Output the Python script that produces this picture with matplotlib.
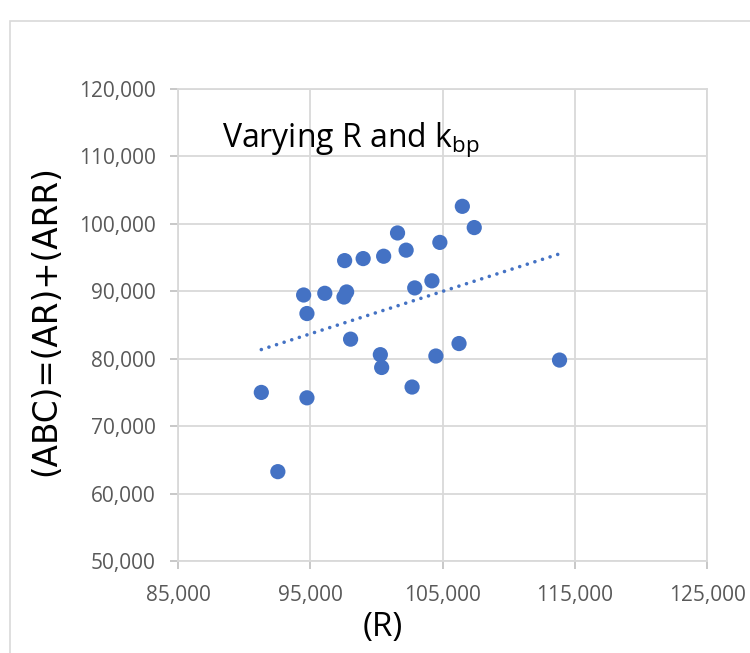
import matplotlib
matplotlib.use('Agg')
import matplotlib.pyplot as plt
import numpy as np
from matplotlib.patches import Rectangle
from matplotlib.ticker import StrMethodFormatter

# (R) on the x axis, (ABC)=(AR)+(ARR) on the y axis
r_values = [106500, 107400, 101600, 104800, 102250, 100550, 99000, 97600,
            104200, 102900, 94500, 96100, 97750, 97550, 94750, 98050,
            106250, 100300, 104500, 113850, 100400, 102700, 91300, 94750,
            92550]
abc_values = [102600, 99450, 98650, 97250, 96100, 95200, 94850, 94550,
              91550, 90500, 89450, 89700, 89900, 89150, 86700, 82900,
              82250, 80600, 80400, 79800, 78700, 75800, 75000, 74200,
              63250]

x_ticks = [85000, 95000, 105000, 115000, 125000]
y_ticks = [50000, 60000, 70000, 80000, 90000, 100000, 110000, 120000]

title = 'Varying R and k$_{\\mathregular{bp}}$'
x_label = '(R)'
y_label = '(ABC)=(AR)+(ARR)'

blue = '#4472C4'
grid_grey = '#d9d9d9'
text_grey = '#595959'

plt.rcParams['font.family'] = ['Open Sans', 'DejaVu Sans']
plt.rcParams['mathtext.default'] = 'regular'

fig = plt.figure(figsize=(7.5, 6.53), dpi=100)
fig.patch.set_facecolor('white')

# outer chart frame (cut off at right and bottom in the reference)
fig.add_artist(Rectangle((9.5 / 750, -0.1), 1.2, 1.1 - 21 / 653,
                         transform=fig.transFigure, fill=False,
                         edgecolor=grid_grey, linewidth=1.2))

ax = fig.add_axes([178 / 750, 1 - 561 / 653, 529 / 750, 472 / 653])

ax.scatter(r_values, abc_values, s=120, color=blue, zorder=3,
           edgecolors='none')

# linear trendline over the data range
slope, intercept = np.polyfit(r_values, abc_values, 1)
trend_x = np.array([min(r_values), max(r_values)])
ax.plot(trend_x, slope * trend_x + intercept, color=blue, linewidth=2.6,
        linestyle=(0, (0.01, 2.2)), dash_capstyle='round', zorder=2)

ax.set_xlim(x_ticks[0], x_ticks[-1])
ax.set_ylim(y_ticks[0], y_ticks[-1])
ax.set_xticks(x_ticks)
ax.set_yticks(y_ticks)
ax.xaxis.set_major_formatter(StrMethodFormatter('{x:,.0f}'))
ax.yaxis.set_major_formatter(StrMethodFormatter('{x:,.0f}'))
ax.grid(True, color=grid_grey, linewidth=1.3, zorder=0)
ax.set_axisbelow(True)

for spine in ax.spines.values():
    spine.set_color(grid_grey)
    spine.set_linewidth(1.3)

ax.tick_params(axis='both', colors='#bfbfbf', labelcolor=text_grey,
               labelsize=15, length=6, width=1.2)
ax.tick_params(axis='y', pad=10)
ax.tick_params(axis='x', pad=11)

ax.text(0.083, 0.878, title, transform=ax.transAxes, fontsize=23,
        ha='left', va='baseline', color='black')

ax.set_xlabel(x_label, fontsize=24, color='black')
ax.xaxis.set_label_coords(0.3875, -0.105)
ax.set_ylabel(y_label, fontsize=23.5, color='black', family='DejaVu Sans')
ax.yaxis.set_label_coords(-0.219, 0.51)

fig.savefig('out.png', dpi=100, facecolor='white')
